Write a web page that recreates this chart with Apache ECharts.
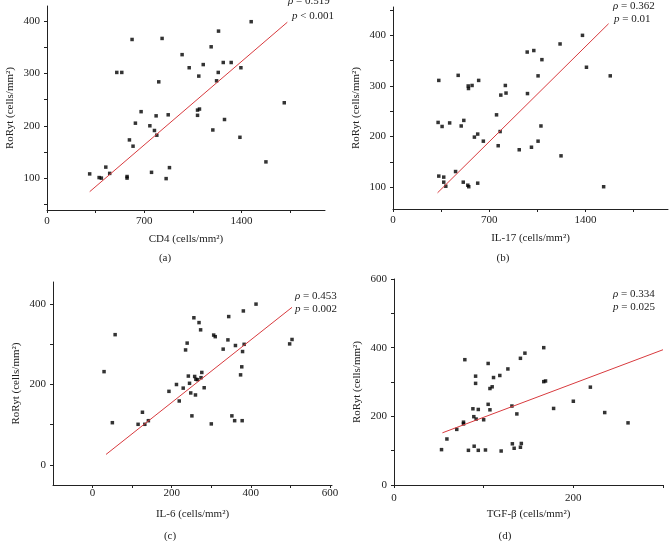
<!DOCTYPE html>
<html>
<head>
<meta charset="utf-8">
<script src="https://cdn.jsdelivr.net/npm/echarts@6/dist/echarts.min.js"></script>
<style>
  html, body { margin: 0; padding: 0; background: #fff; }
  #chart { width: 671px; height: 541px; }
</style>
</head>
<body>
<div id="chart"></div>
<script>
// (a) CD4 vs RoRyt
const cd4 = [307, 375, 391, 423, 451, 502, 538, 576, 576, 593, 612, 619, 636, 677, 740, 752, 773, 785, 790, 804, 828, 857, 872, 881,
  972, 1023, 1083, 1083, 1092, 1097, 1124, 1181, 1193, 1220, 1232, 1234, 1268, 1277, 1325, 1388, 1395, 1469, 1575, 1707];
const rorA = [108, 101, 100, 121, 109, 302, 302, 103, 100, 173, 365, 161, 205, 227, 200, 111, 191, 219, 182, 284, 367, 99, 221, 120,
  336, 311, 220, 230, 295, 232, 317, 351, 192, 286, 302, 381, 321, 212, 321, 178, 311, 399, 131, 244];
const fitAx = [307, 1729];
const fitAy = [74, 398];

// (b) IL-17 vs RoRyt
const il17 = [333, 328, 357, 412, 333, 369, 369, 384, 455, 474, 496, 515, 511, 544, 551, 547, 549, 575, 592, 616, 616, 623, 657,
  753, 765, 779, 784, 817, 822, 918, 976, 978, 1007, 1024, 1055, 1055, 1076, 1083, 1215, 1222, 1378, 1407, 1532, 1580];
const rorB = [311, 228, 220, 227, 122, 120, 110, 102, 131, 321, 221, 232, 110, 104, 101, 300, 295, 301, 199, 205, 108, 311, 191,
  243, 182, 210, 282, 301, 286, 174, 367, 285, 179, 370, 320, 191, 221, 352, 383, 162, 400, 337, 101, 320];
const fitBx = [324, 1568];
const fitBy = [89, 423];

// (c) IL-6 vs RoRyt
const il6 = [29, 50, 57, 115, 126, 132, 141, 193, 212, 219, 229, 235, 239, 242, 245, 248, 251, 256, 258, 260, 261, 265, 269,
  273, 274, 276, 282, 300, 306, 310, 330, 342, 344, 352, 359, 361, 374, 377, 378, 379, 381, 383, 413, 498, 504];
const rorC = [232, 105, 324, 101, 131, 101, 110, 183, 200, 159, 191, 286, 303, 221, 203, 179, 122, 366, 220, 174, 213, 212, 354,
  336, 217, 230, 192, 102, 323, 319, 288, 311, 369, 122, 110, 297, 224, 244, 110, 282, 383, 300, 400, 301, 312];
const fitCx = [34, 504];
const fitCy = [26, 392];

// (d) TGF-β vs RoRyt
const tgfb = [53, 59, 70, 77.5, 77.5, 79, 83, 88, 89, 89.4, 91, 91, 91.6, 94, 94, 100, 102, 105, 105, 107, 107, 109.5, 111,
  118, 119.5, 127, 131.5, 132, 134, 137, 141, 141, 142, 146, 167, 167, 169, 178, 200, 219, 235, 261];
const rorD = [103, 134, 162, 178, 183, 365, 101, 222, 199, 113, 317, 296, 192, 101, 220, 190, 102, 354, 235, 219, 281, 286, 313,
  319, 99, 338, 230, 120, 107, 207, 369, 110, 121, 384, 400, 301, 303, 223, 244, 285, 211, 181];
const fitDx = [54, 300];
const fitDy = [152, 394];

// tick positions and labels
const ticksCells = [0, 350, 700, 1050, 1400, 1750];
const labelsCells = [0, 700, 1400];
const ticksYA = [50, 100, 150, 200, 250, 300, 350, 400];
const ticksYB = [100, 150, 200, 250, 300, 350, 400, 450];
const labelsY100 = [100, 200, 300, 400];
const ticksXC = [0, 100, 200, 300, 400, 500, 600];
const labelsXC = [0, 200, 400, 600];
const ticksYC = [0, 100, 200, 300, 400];
const labelsYC = [0, 200, 400];
const ticksXD = [0, 100, 200, 300];
const labelsXD = [0, 200];
const ticksYD = [0, 100, 200, 300, 400, 500, 600];
const labelsYD = [0, 200, 400, 600];

const FONT = '"Liberation Serif", "DejaVu Serif", serif';
const INK = '#222';
const RED = '#d83a3e';
const yName = 'RoRyt (cells/mm\u00b2)';

function pairs(xs, ys) {
  return xs.map((x, i) => [x, ys[i]]);
}

// plain numbers, no thousands separator
const plain = v => String(v);

function xAxis(idx, name, min, max, ticks, labels, margin) {
  return {
    gridIndex: idx, type: 'value', min: min, max: max,
    name: name, nameLocation: 'middle', nameGap: 24,
    nameTextStyle: { fontFamily: FONT, fontSize: 11, color: INK },
    axisLine: { onZero: false, lineStyle: { color: INK, width: 1 } },
    axisTick: { show: true, length: 3, customValues: ticks, lineStyle: { color: INK } },
    axisLabel: { customValues: labels, formatter: plain, margin: margin, fontFamily: FONT, fontSize: 11, color: INK },
    splitLine: { show: false },
  };
}

function yAxis(idx, min, max, ticks, labels) {
  return {
    gridIndex: idx, type: 'value', min: min, max: max,
    name: yName, nameLocation: 'middle', nameGap: 31,
    nameTextStyle: { fontFamily: FONT, fontSize: 11, color: INK },
    axisLine: { show: true, onZero: false, lineStyle: { color: INK, width: 1 } },
    axisTick: { show: true, length: 3, customValues: ticks, lineStyle: { color: INK } },
    axisLabel: { customValues: labels, formatter: plain, margin: 7, fontFamily: FONT, fontSize: 11, color: INK },
    splitLine: { show: false },
  };
}

function scatter(idx, xs, ys) {
  return {
    type: 'scatter', xAxisIndex: idx, yAxisIndex: idx,
    symbol: 'rect', symbolSize: 3.5,
    itemStyle: { color: '#000' },
    data: pairs(xs, ys),
  };
}

function fit(idx, xs, ys) {
  return {
    type: 'line', xAxisIndex: idx, yAxisIndex: idx,
    showSymbol: false, symbol: 'none',
    lineStyle: { color: RED, width: 1 },
    data: pairs(xs, ys),
  };
}

function note(x, y, sym, rest) {
  return {
    type: 'text', x: x, y: y,
    style: {
      text: '{i|' + sym + '}' + rest,
      fontFamily: FONT, fontSize: 11, fill: INK,
      verticalAlign: 'middle', align: 'left',
      rich: { i: { fontStyle: 'italic', fontFamily: FONT, fontSize: 11, fill: INK } },
    },
  };
}

function letter(x, y, txt) {
  return {
    type: 'text', x: x, y: y,
    style: { text: txt, fontFamily: FONT, fontSize: 11, fill: INK, align: 'center', verticalAlign: 'middle' },
  };
}

const chart = echarts.init(document.getElementById('chart'));

chart.setOption({
  animation: false,
  grid: [
    { left: 47, top: 6, width: 278, height: 204 },
    { left: 393, top: 7, width: 275, height: 202 },
    { left: 53, top: 282, width: 279, height: 203 },
    { left: 394, top: 279, width: 269, height: 206 },
  ],
  xAxis: [
    xAxis(0, 'CD4 (cells/mm\u00b2)', 0, 2000, ticksCells, labelsCells, 6),
    xAxis(1, 'IL-17 (cells/mm\u00b2)', 0, 2000, ticksCells, labelsCells, 6),
    xAxis(2, 'IL-6 (cells/mm\u00b2)', -100, 605, ticksXC, labelsXC, 3),
    xAxis(3, 'TGF-\u03b2 (cells/mm\u00b2)', 0, 300, ticksXD, labelsXD, 8),
  ],
  yAxis: [
    yAxis(0, 39, 429, ticksYA, labelsY100),
    yAxis(1, 57, 456, ticksYB, labelsY100),
    yAxis(2, -50, 455, ticksYC, labelsYC),
    yAxis(3, 0, 600, ticksYD, labelsYD),
  ],
  series: [
    fit(0, fitAx, fitAy), scatter(0, cd4, rorA),
    fit(1, fitBx, fitBy), scatter(1, il17, rorB),
    fit(2, fitCx, fitCy), scatter(2, il6, rorC),
    fit(3, fitDx, fitDy), scatter(3, tgfb, rorD),
  ],
  graphic: [
    note(288, 1, '\u03c1', ' = 0.519'), note(292, 16, 'p', ' < 0.001'),
    note(613, 6, '\u03c1', ' = 0.362'), note(614, 19, 'p', ' = 0.01'),
    note(295, 296, '\u03c1', ' = 0.453'), note(295, 309, 'p', ' = 0.002'),
    note(613, 294, '\u03c1', ' = 0.334'), note(613, 307, 'p', ' = 0.025'),
    letter(165, 258, '(a)'), letter(503, 258, '(b)'),
    letter(170, 536, '(c)'), letter(505, 536, '(d)'),
  ],
});
</script>
</body>
</html>
